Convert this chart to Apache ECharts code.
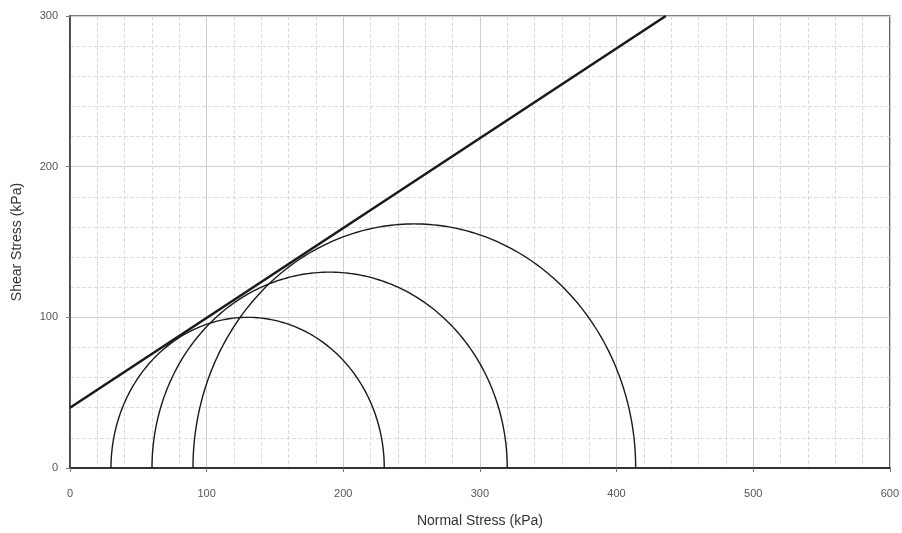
<!DOCTYPE html>
<html><head><meta charset="utf-8">
<script src="https://cdn.jsdelivr.net/npm/echarts@6/dist/echarts.min.js"></script>
<style>html,body{margin:0;padding:0;background:#fff}#c{width:902px;height:533px}</style>
</head><body><div id="c"></div>
<script>
// Mohr circles: minor and major principal stresses (kPa)
const sigma3 = [30, 60, 90];
const sigma1 = [230, 320, 414];
// Failure envelope end points (kPa)
const envelopeX = [0, 436];
const envelopeY = [40, 300];
// Axis ranges / ticks
const xRange = [0, 600];
const yRange = [0, 300];
const xTickLabels = ['0', '100', '200', '300', '400', '500', '600'];
const yTickLabels = ['0', '100', '200', '300'];

const circleData = sigma3.map((s3, i) => [s3, sigma1[i]]);
const envelopeData = envelopeX.map((x, i) => [x, envelopeY[i]]);

const chart = echarts.init(document.getElementById('c'), null, {renderer: 'canvas'});
const font = '"Liberation Sans", Arial, sans-serif';
chart.setOption({
  backgroundColor: '#fff',
  animation: false,
  grid: {left: 70, right: 11, top: 16, bottom: 65, show: true, borderColor: '#555', borderWidth: 1.5},
  xAxis: {
    type: 'value', min: xRange[0], max: xRange[1], interval: 100,
    name: 'Normal Stress (kPa)', nameLocation: 'middle', nameGap: 46,
    nameTextStyle: {fontFamily: font, fontSize: 14, color: '#333'},
    axisLine: {show: true, onZero: false, lineStyle: {color: '#333', width: 2}},
    axisTick: {show: true, length: 4, lineStyle: {color: '#777'}},
    axisLabel: {fontFamily: font, fontSize: 11, color: '#555', margin: 20,
      formatter: v => xTickLabels[Math.round(v / 100)] ?? ''},
    splitLine: {show: true, lineStyle: {color: '#cfcfcf', width: 1}},
    minorTick: {show: false, splitNumber: 5},
    minorSplitLine: {show: true, lineStyle: {color: '#dcdcdc', width: 1, type: [4, 2]}}
  },
  yAxis: {
    type: 'value', min: yRange[0], max: yRange[1], interval: 100,
    name: 'Shear Stress (kPa)', nameLocation: 'middle', nameGap: 46,
    nameTextStyle: {fontFamily: font, fontSize: 14, color: '#333'},
    axisLine: {show: true, onZero: false, lineStyle: {color: '#333', width: 1.5}},
    axisTick: {show: true, length: 4, lineStyle: {color: '#777'}},
    axisLabel: {fontFamily: font, fontSize: 11, color: '#555', margin: 12,
      formatter: v => yTickLabels[Math.round(v / 100)] ?? ''},
    splitLine: {show: true, lineStyle: {color: '#cfcfcf', width: 1}},
    minorTick: {show: false, splitNumber: 5},
    minorSplitLine: {show: true, lineStyle: {color: '#dcdcdc', width: 1, type: [4, 2]}}
  },
  series: [
    {
      type: 'custom',
      data: circleData,
      encode: {x: 0, y: 1},
      clip: true,
      renderItem: function (params, api) {
        const s3 = api.value(0), s1 = api.value(1);
        const c = (s1 + s3) / 2, r = (s1 - s3) / 2;
        const pts = [];
        for (let i = 0; i <= 180; i++) {
          const t = Math.PI * i / 180;
          pts.push(api.coord([c + r * Math.cos(t), r * Math.sin(t)]));
        }
        return {type: 'polyline', shape: {points: pts}, style: {stroke: '#1a1a1a', lineWidth: 1.4, fill: null}};
      }
    },
    {
      type: 'line',
      data: envelopeData,
      symbol: 'none',
      clip: true,
      lineStyle: {color: '#1a1a1a', width: 2.6}
    }
  ]
});
</script>
</body></html>
